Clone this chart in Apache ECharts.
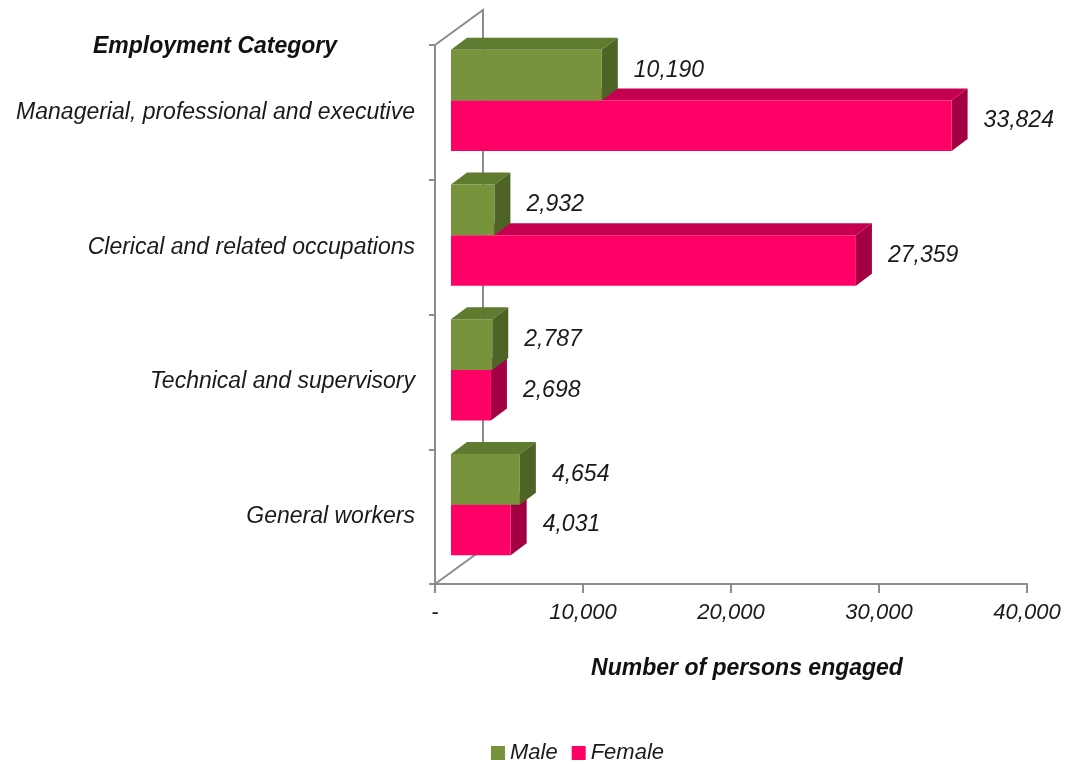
<!DOCTYPE html>
<html>
<head>
<meta charset="utf-8">
<script src="https://cdn.jsdelivr.net/npm/echarts@6/dist/echarts.min.js"></script>
<style>
  html, body { margin: 0; padding: 0; background: #fff; }
  #chart { width: 1069px; height: 764px; }
</style>
</head>
<body>
<div id="chart"></div>
<script>
// categories, top to bottom
const categories = [
  'Managerial, professional and executive',
  'Clerical and related occupations',
  'Technical and supervisory',
  'General workers'
]
const maleValues = [10190, 2932, 2787, 4654]
const femaleValues = [33824, 27359, 2698, 4031]
const xTicks = [0, 10000, 20000, 30000, 40000]

const FONT = '"Liberation Sans", Arial, sans-serif'
const LINE = '#8c8c8c'
// depth step of a bar (front face -> back face), full wall = 3 steps
const DX = 16, DY = -12

const colors = {
  Male: { front: '#77933c', top: '#5f7b2f', side: '#4e6427' },
  Female: { front: '#ff0066', top: '#c4004f', side: '#a30044' }
}

function fmt(v) {
  return v === 0 ? '-' : v.toLocaleString('en-US')
}

// draws one 3D box per data item
function renderBox(params, api) {
  const v = api.value(0)
  const c = api.value(1)
  const base = api.coord([0, c])
  const end = api.coord([v, c])
  const band = api.size([0, 1])[1]
  const h = band * 0.375
  const cy = base[1] + DY
  const isMale = params.seriesName === 'Male'
  const top = isMale ? cy - h : cy
  const x0 = base[0] + DX
  const x1 = end[0] + DX
  const col = colors[params.seriesName]
  return {
    type: 'group',
    children: [
      {
        type: 'polygon',
        shape: { points: [[x0, top], [x0 + DX, top + DY], [x1 + DX, top + DY], [x1, top]] },
        style: { fill: col.top }
      },
      {
        type: 'polygon',
        shape: { points: [[x1, top], [x1 + DX, top + DY], [x1 + DX, top + h + DY], [x1, top + h]] },
        style: { fill: col.side }
      },
      {
        type: 'rect',
        shape: { x: x0, y: top, width: x1 - x0, height: h },
        style: { fill: col.front }
      },
      {
        type: 'text',
        x: x1 + DX + 16,
        y: top + h / 2 - 5,
        style: {
          text: fmt(v),
          font: 'italic 23px ' + FONT,
          fill: '#1a1a1a',
          textAlign: 'left',
          textVerticalAlign: 'middle'
        }
      }
    ]
  }
}

// back wall of the 3D box (left side)
function renderWall(params, api) {
  const cs = params.coordSys
  const x = cs.x, y = cs.y, h = cs.height
  const bx = x + DX * 3, by = DY * 3 + 1
  const ls = { stroke: LINE, lineWidth: 2, fill: null }
  return {
    type: 'group',
    children: [
      { type: 'polyline', shape: { points: [[x, y], [bx, y + by], [bx, y + h + by], [x, y + h]] }, style: ls }
    ]
  }
}

const chart = echarts.init(document.getElementById('chart'))

chart.setOption({
  animation: false,
  textStyle: { fontFamily: FONT },
  grid: { left: 435, right: 42, top: 45, bottom: 180 },
  legend: {
    data: ['Male', 'Female'],
    left: 486,
    top: 737,
    icon: 'rect',
    itemWidth: 14,
    itemHeight: 14,
    itemGap: 14,
    textStyle: { fontSize: 22, fontStyle: 'italic', color: '#1a1a1a', fontFamily: FONT }
  },
  xAxis: {
    type: 'value',
    min: 0,
    max: 40000,
    interval: 10000,
    splitLine: { show: false },
    axisLine: { show: true, lineStyle: { color: LINE, width: 2 } },
    axisTick: { show: true, length: 9, lineStyle: { color: LINE, width: 2 } },
    axisLabel: {
      formatter: fmt,
      margin: 18,
      fontSize: 22,
      fontStyle: 'italic',
      color: '#1a1a1a'
    }
  },
  yAxis: {
    type: 'category',
    inverse: true,
    data: categories,
    axisLine: { show: true, lineStyle: { color: LINE, width: 2 } },
    axisTick: { show: true, length: 6, lineStyle: { color: LINE, width: 2 } },
    axisLabel: {
      margin: 20,
      fontSize: 23,
      fontStyle: 'italic',
      color: '#1a1a1a'
    }
  },
  graphic: [
    {
      type: 'text',
      left: 93,
      top: 35,
      style: { text: 'Employment Category', font: 'italic bold 23px ' + FONT, fill: '#111' }
    },
    {
      type: 'text',
      x: 747,
      y: 669,
      style: {
        text: 'Number of persons engaged',
        font: 'italic bold 23px ' + FONT,
        fill: '#111',
        textAlign: 'center',
        textVerticalAlign: 'middle'
      }
    }
  ],
  series: [
    {
      name: 'wall',
      type: 'custom',
      silent: true,
      renderItem: renderWall,
      data: [[0, 0]],
      z: 1
    },
    {
      name: 'Female',
      type: 'custom',
      renderItem: renderBox,
      itemStyle: { color: colors.Female.front },
      encode: { x: 0, y: 1 },
      data: femaleValues.map((v, i) => [v, i]),
      z: 2
    },
    {
      name: 'Male',
      type: 'custom',
      renderItem: renderBox,
      itemStyle: { color: colors.Male.front },
      encode: { x: 0, y: 1 },
      data: maleValues.map((v, i) => [v, i]),
      z: 3
    }
  ]
})
</script>
</body>
</html>
